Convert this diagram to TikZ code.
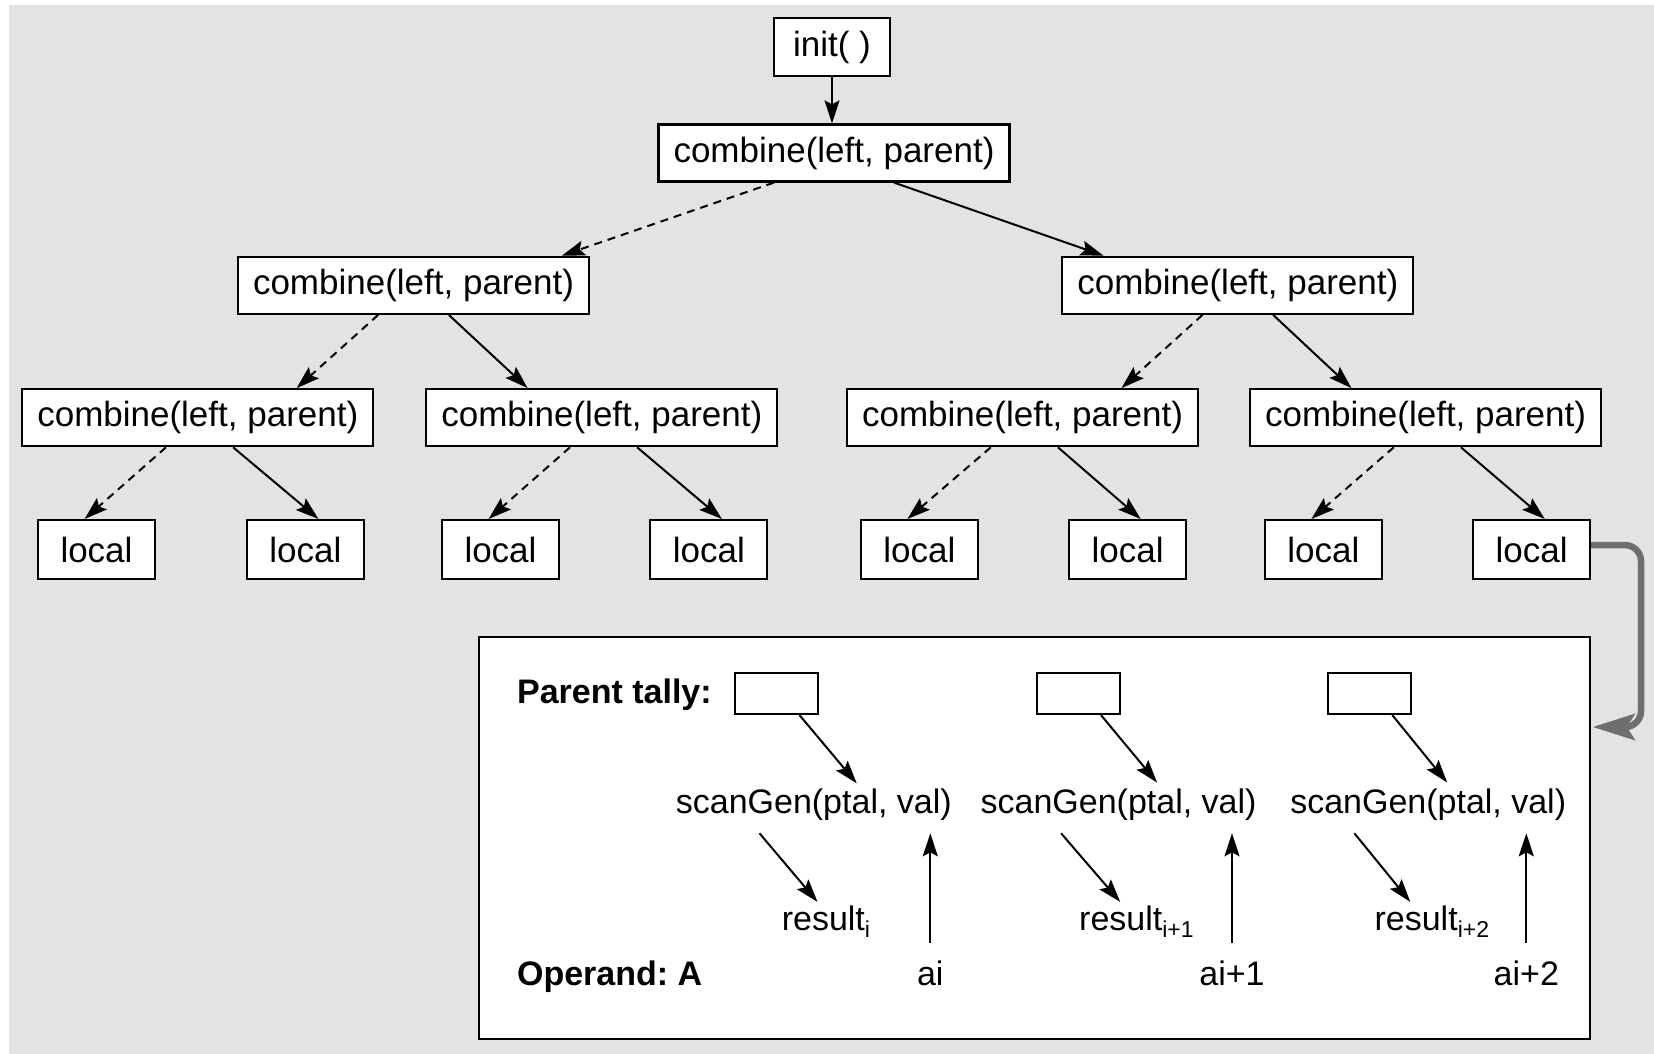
\documentclass[tikz,border=0pt]{standalone}
\usepackage{fontspec}
\setmainfont{Liberation Sans}
\usetikzlibrary{arrows.meta,calc}
\definecolor{bgc}{HTML}{E3E3E3}
\definecolor{garr}{HTML}{6E6E6E}
\newcommand{\sbx}[1]{\raisebox{-7pt}{\fontsize{23}{25}\selectfont #1}}
\frenchspacing
\begin{document}
\begin{tikzpicture}[x=1pt,y=-1pt,
  every node/.style={font=\fontsize{34}{40}\selectfont},
  box/.style={draw=black, line width=2.2pt, fill=white, inner sep=0pt, minimum height=57pt,
              font=\fontsize{35}{40}\selectfont},
  cbox/.style={box, minimum width=351pt},
  lbox/.style={box, minimum width=117pt, minimum height=59pt},
  tbox/.style={draw=black, line width=2pt, fill=white, minimum width=83pt, minimum height=41pt, inner sep=0pt},
  lab/.style={inner sep=0pt},
  blab/.style={inner sep=0pt, font=\fontsize{34}{40}\selectfont\bfseries},
  arr/.style={line width=2pt, -{Stealth[length=23pt,width=15pt,inset=4pt]}},
  dsh/.style={arr, dash pattern=on 8pt off 6pt},
]
\useasboundingbox (0,0) rectangle (1654,1054);
\fill[bgc] (9,5) rectangle (1654,1054);

% tree
\node[box, minimum width=116pt, minimum height=58pt] (init) at (832,47) {init( )};
\node[cbox] (c0) at (834,153) {combine(left, parent)};
\node[cbox] (c1) at (413.5,285.3) {combine(left, parent)};
\node[cbox] (c2) at (1237.8,285.3) {combine(left, parent)};
\node[cbox] (c3) at (197.8,417.7) {combine(left, parent)};
\node[cbox] (c4) at (601.8,417.7) {combine(left, parent)};
\node[cbox] (c5) at (1022.6,417.7) {combine(left, parent)};
\node[cbox] (c6) at (1425.6,417.7) {combine(left, parent)};
\node[lbox] (l1) at (96.5,549.6) {local};
\node[lbox] (l2) at (305.4,549.6) {local};
\node[lbox] (l3) at (500.5,549.6) {local};
\node[lbox] (l4) at (708.8,549.6) {local};
\node[lbox] (l5) at (919.3,549.6) {local};
\node[lbox] (l6) at (1127.6,549.6) {local};
\node[lbox] (l7) at (1323.3,549.6) {local};
\node[lbox] (l8) at (1531.6,549.6) {local};

\draw[arr] (init.south) -- (init.south |- c0.north);
\draw[dsh] ($(c0.south west)!0.33!(c0.south east)$) -- ($(c1.north west)!0.92!(c1.north east)$);
\draw[arr] ($(c0.south west)!0.67!(c0.south east)$) -- ($(c2.north west)!0.12!(c2.north east)$);
\foreach \p/\a/\b in {c1/c3/c4, c2/c5/c6} {
  \draw[dsh] ($(\p.south west)!0.4!(\p.south east)$) -- ($(\a.north west)!0.78!(\a.north east)$);
  \draw[arr] ($(\p.south west)!0.6!(\p.south east)$) -- ($(\b.north west)!0.29!(\b.north east)$);
}
\foreach \p/\a/\b in {c3/l1/l2, c4/l3/l4, c5/l5/l6, c6/l7/l8} {
  \draw[dsh] ($(\p.south west)!0.41!(\p.south east)$) -- ($(\a.north west)!0.4!(\a.north east)$);
  \draw[arr] ($(\p.south west)!0.6!(\p.south east)$) -- ($(\b.north west)!0.61!(\b.north east)$);
}

% detail box
\node[draw=black, line width=2.2pt, fill=white, inner sep=0pt,
      minimum width=1110.7pt, minimum height=401.9pt] (big) at (1034.25,838.05) {};

\coordinate (gturn) at (1641,727);
\draw[line width=6.5pt, draw=garr, rounded corners=16pt,
      -{Stealth[length=42pt,width=26pt,inset=8pt]}]
  ([yshift=4.5pt]l8.east) -| (gturn) -- ([xshift=2pt]gturn -| big.east);

\node[blab, anchor=base west] (pt) at (516.9,703.3) {Parent tally:};
\node[blab, anchor=base west] (op) at (516.9,985) {Operand: A};

\node[tbox] (t1) at (776.9,693.6) {};
\node[tbox] (t2) at (1078,693.6) {};
\node[tbox] (t3) at (1369.6,693.6) {};

\node[lab, anchor=base] (s1) at (813.8,813.3) {scanGen(ptal, val)};
\node[lab, anchor=base] (s2) at (1118.6,813.3) {scanGen(ptal, val)};
\node[lab, anchor=base] (s3) at (1428.2,813.3) {scanGen(ptal, val)};

\node[lab, anchor=base west] (r1) at (781.6,930) {result\sbx{i}};
\node[lab, anchor=base west] (r2) at (1079,930) {result\sbx{i+1}};
\node[lab, anchor=base west] (r3) at (1374.4,930) {result\sbx{i+2}};

\node[lab, anchor=base] (a1) at (930.3,985) {ai};
\node[lab, anchor=base] (a2) at (1232,985) {ai+1};
\node[lab, anchor=base] (a3) at (1526.3,985) {ai+2};

\draw[arr] ([xshift=22.6pt]t1.south) -- ([shift={(42.9,-30)}]s1.base);
\draw[arr] ([xshift=23pt]t2.south) -- ([shift={(38.5,-30.7)}]s2.base);
\draw[arr] ([xshift=22.7pt]t3.south) -- ([shift={(19,-30.7)}]s3.base);

\draw[arr] ([shift={(-54.3,20)}]s1.base) -- ([shift={(35.9,-28.1)}]r1.base west);
\draw[arr] ([shift={(-57.5,20)}]s2.base) -- ([shift={(41.2,-28.1)}]r2.base west);
\draw[arr] ([shift={(-73.8,20)}]s3.base) -- ([shift={(35.9,-28.1)}]r3.base west);

\draw[arr] ([yshift=42pt]a1.base) -- ([yshift=-20pt]a1.base |- s1.base);
\draw[arr] ([yshift=42pt]a2.base) -- ([yshift=-20pt]a2.base |- s2.base);
\draw[arr] ([yshift=42pt]a3.base) -- ([yshift=-20pt]a3.base |- s3.base);
\end{tikzpicture}
\end{document}
